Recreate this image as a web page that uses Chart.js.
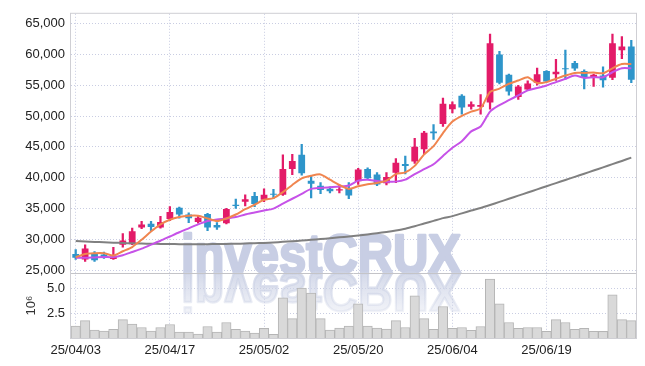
<!DOCTYPE html>
<html><head><meta charset="utf-8">
<script src="https://cdn.jsdelivr.net/npm/chart.js@4.4.1/dist/chart.umd.min.js"></script>
<style>html,body{margin:0;padding:0;background:#fff;}#wrap{width:645px;height:366px;}</style>
</head><body><div id="wrap"><canvas id="c" width="645" height="366"></canvas></div>
<script>
const dates = ['25/04/03','25/04/04','25/04/07','25/04/08','25/04/09','25/04/10','25/04/11','25/04/14','25/04/15','25/04/16',
'25/04/17','25/04/18','25/04/21','25/04/22','25/04/23','25/04/24','25/04/25','25/04/28','25/04/29','25/04/30',
'25/05/02','25/05/07','25/05/08','25/05/09','25/05/12','25/05/13','25/05/14','25/05/15','25/05/16','25/05/19',
'25/05/20','25/05/21','25/05/22','25/05/23','25/05/26','25/05/27','25/05/28','25/05/29','25/05/30','25/06/02',
'25/06/04','25/06/05','25/06/09','25/06/10','25/06/11','25/06/12','25/06/13','25/06/16','25/06/17','25/06/18',
'25/06/19','25/06/20','25/06/23','25/06/24','25/06/25','25/06/26','25/06/27','25/06/30','25/07/01','25/07/02'];
const opens = [27600,26700,27600,27500,26800,29100,29200,31900,32500,31900,
33300,35100,34000,32800,34100,32300,32600,35600,36100,37000,
36400,37400,37200,41400,43700,39500,38700,38200,37900,38300,
39400,41400,40500,39100,40800,42200,42600,44600,47500,48700,
51100,53300,51500,51500,52200,60000,56700,53100,54300,55400,
57300,56800,57750,58600,57300,56200,56600,56200,60700,61300];
const highs = [28300,29100,28000,27900,28700,30900,31800,32900,32900,33700,
35300,35200,34300,33800,34200,32700,35000,36500,37200,37600,
38200,38100,43700,43800,45400,40300,39200,38500,38800,39200,
41500,41600,40800,40800,43100,43500,46400,47500,48600,52900,
52300,53500,52300,53500,63300,60500,56800,55000,55700,57800,
57400,59200,60700,58900,57500,56800,58000,63300,62900,62300];
const lows = [26700,26400,26400,26900,26700,28700,29100,31700,31400,31800,
33000,33400,32700,32600,31400,31600,32500,35000,35400,35300,
36100,36600,37100,40500,40400,36700,37400,37500,37500,36600,
38900,39700,38700,38800,39200,40600,42300,43800,46200,48300,
50500,50300,51100,50300,51100,55200,53400,52700,54200,55000,
55500,55800,56000,57400,54400,54800,54700,55900,59300,55400];
const closes = [27000,28500,26600,27100,27200,29800,31300,32400,32000,32800,
34400,34000,33400,33500,31900,31900,34900,35400,36500,35700,
37200,37200,41400,42700,40700,39000,38000,37800,38100,37100,
41300,39900,38900,40100,42400,41900,45000,47300,47200,52000,
51900,51400,51900,51800,61800,55400,54000,54800,55300,56800,
55600,57200,57600,57700,56200,56700,55800,61800,61300,55900];
const volumes = [1.2,1.77,0.8,0.7,0.87,1.87,1.4,1.07,0.7,1.07,
1.37,0.6,0.6,0.4,1.17,0.6,1.57,0.87,0.7,0.5,
0.97,0.37,4.07,1.97,5.07,4.57,1.97,0.8,1.0,1.2,
3.47,1.2,1.0,0.9,1.77,1.07,4.27,1.97,0.87,3.2,
0.97,1.07,0.77,1.17,5.97,3.47,1.57,0.97,1.07,1.07,
0.67,1.87,1.57,0.87,0.97,0.67,0.67,4.37,1.87,1.77];
const ma5 = [27080,27610,27720,27720,27350,28040,28730,29910,31240,32410,
33160,33590,33800,33800,33370,32950,33370,34010,34870,35610,
36400,36680,37640,38810,39880,40310,40520,39670,38810,38170,
38600,38920,39130,39510,40570,40840,41910,43770,45110,47240,
49100,50010,50710,51240,53910,54440,55240,55770,56310,55350,
55510,56040,56570,57000,57000,57050,56950,57750,58440,58440];
const ma10 = [27000,27000,27050,27100,27100,27400,27930,28470,29110,29750,
30440,31130,31770,32410,32950,33210,33370,33590,34010,34330,
34650,34970,35770,36570,37370,38170,38330,38440,38550,38710,
39510,39670,39450,39350,39350,39670,40570,41370,42170,43510,
44840,45910,47510,48310,50710,51770,52570,53370,54170,54550,
54970,55510,56040,56570,56200,56310,56310,57110,57750,57750];
const ma60 = [29700,29630,29560,29500,29440,29390,29340,29300,29260,29230,
29210,29200,29190,29190,29200,29210,29230,29260,29300,29350,
29400,29480,29570,29670,29780,29900,30030,30160,30300,30450,
30600,30780,30970,31180,31420,31700,32100,32550,32980,33420,
33750,34200,34650,35080,35560,36060,36560,37070,37580,38090,
38600,39110,39620,40130,40640,41150,41670,42190,42710,43240];
const priceTicks = [25000,30000,35000,40000,45000,50000,55000,60000,65000];
const volumeTicks = [2.5,5.0];

const RED = '#e31b68', BLUE = '#2e95ca';
const candleColors = closes.map((c,i)=> c >= opens[i] ? RED : BLUE);
const wickData = lows.map((l,i)=>[l, highs[i]]);
const bodyData = opens.map((o,i)=>[Math.min(o,closes[i]), Math.max(o,closes[i])]);
const GRID = '#c9cde2';
const FONT = {family:'"Liberation Sans", Arial, sans-serif', size:13};

const deco = {
  id:'deco',
  beforeDatasetsDraw(chart){
    const {ctx, chartArea:a, scales} = chart;
    const base = scales.y.bottom;
    ctx.save();
    ctx.beginPath(); ctx.rect(a.left, a.top, a.right-a.left, a.bottom-a.top); ctx.clip();
    ctx.font = 'bold 56px "Liberation Sans", Arial, sans-serif';
    const txt = 'investCRUX';
    const w = ctx.measureText(txt).width;
    const sx = 280 / w;
    ctx.textBaseline = 'alphabetic';
    ctx.lineJoin = 'round';
    ctx.save();
    ctx.translate(181, base);
    ctx.scale(sx, 1);
    ctx.fillStyle = 'rgb(200,206,228)';
    ctx.strokeStyle = 'rgb(200,206,228)';
    ctx.lineWidth = 2.5;
    ctx.fillText(txt, 0, 0);
    ctx.strokeText(txt, 0, 0);
    ctx.restore();
    ctx.save();
    ctx.translate(181, base);
    ctx.scale(sx, -1);
    const g = ctx.createLinearGradient(0, 0, 0, -44);
    g.addColorStop(0, 'rgba(205,211,230,0.85)');
    g.addColorStop(1, 'rgba(205,211,230,0.2)');
    ctx.fillStyle = g;
    ctx.strokeStyle = g;
    ctx.lineWidth = 2.5;
    ctx.fillText(txt, 0, 0);
    ctx.strokeText(txt, 0, 0);
    ctx.restore();
    ctx.restore();
  },
  afterDraw(chart){
    const {ctx, chartArea:a, scales} = chart;
    ctx.save();
    ctx.strokeStyle = '#cfcfd4';
    ctx.lineWidth = 1;
    ctx.strokeRect(a.left - 0.5, a.top - 0.5, a.right - a.left + 1, a.bottom - a.top + 1);
    ctx.strokeStyle = '#c4c4c8';
    ctx.beginPath();
    const yb = Math.round(scales.y.bottom) + 0.5;
    ctx.moveTo(a.left, yb); ctx.lineTo(a.right, yb); ctx.stroke();
    ctx.restore();
  }
};

new Chart(document.getElementById('c'), {
  type:'bar',
  data:{
    labels: dates,
    datasets:[
      {type:'line', label:'MA5', data:ma5, yAxisID:'y', borderColor:'#f0854f', borderWidth:2, pointRadius:0, tension:0.25, order:1},
      {type:'line', label:'MA10', data:ma10, yAxisID:'y', borderColor:'#c652e8', borderWidth:2, pointRadius:0, tension:0.25, order:2},
      {type:'line', label:'MA60', data:ma60, yAxisID:'y', borderColor:'#808080', borderWidth:2, pointRadius:0, tension:0.25, order:3},
      {label:'body', data:bodyData, yAxisID:'y', backgroundColor:candleColors, borderWidth:0, barPercentage:0.72, categoryPercentage:1, grouped:false, order:4},
      {label:'wick', data:wickData, yAxisID:'y', backgroundColor:candleColors, borderWidth:0, barThickness:1.6, grouped:false, order:5},
      {label:'volume', data:volumes, yAxisID:'y2', backgroundColor:'#d9d9d9', borderColor:'#b5b5b5', borderWidth:1, barPercentage:1, categoryPercentage:1, grouped:false, order:6}
    ]
  },
  options:{
    responsive:false, animation:false, devicePixelRatio:1,
    layout:{padding:{left:0, top:9, right:9, bottom:0}},
    plugins:{legend:{display:false}, tooltip:{enabled:false}},
    scales:{
      x:{
        type:'category', offset:true,
        grid:{offset:false, color:GRID, drawTicks:false},
        border:{display:false, dash:[1,2]},
        ticks:{autoSkip:false, maxRotation:0, padding:5, color:'#222', font:FONT,
          callback:function(v,i){ return i % 10 === 0 ? dates[i] : null; }},
        afterFit(s){ s.height = 28; }
      },
      y:{
        position:'left', stack:'p', stackWeight:263, weight:2,
        min:24520, max:66600,
        grid:{color:GRID, drawTicks:false},
        border:{display:false, dash:[1,2]},
        afterBuildTicks(s){ s.ticks = priceTicks.map(v=>({value:v})); },
        ticks:{autoSkip:false, padding:6, color:'#222', font:FONT, callback:v=>v.toLocaleString('en-US')},
        afterFit(s){ s.width = 71; }
      },
      y2:{
        position:'left', stack:'p', stackWeight:66, weight:1,
        min:0, max:6.6,
        grid:{color:GRID, drawTicks:false},
        border:{display:false, dash:[1,2]},
        afterBuildTicks(s){ s.ticks = volumeTicks.map(v=>({value:v})); },
        ticks:{autoSkip:false, padding:6, color:'#222', font:FONT, callback:v=>v.toFixed(1)},
        title:{display:true, text:'10⁶', color:'#333', font:FONT, padding:{top:24, bottom:0}},
        afterFit(s){ s.width = 71; }
      }
    }
  },
  plugins:[deco]
});
</script></body></html>
